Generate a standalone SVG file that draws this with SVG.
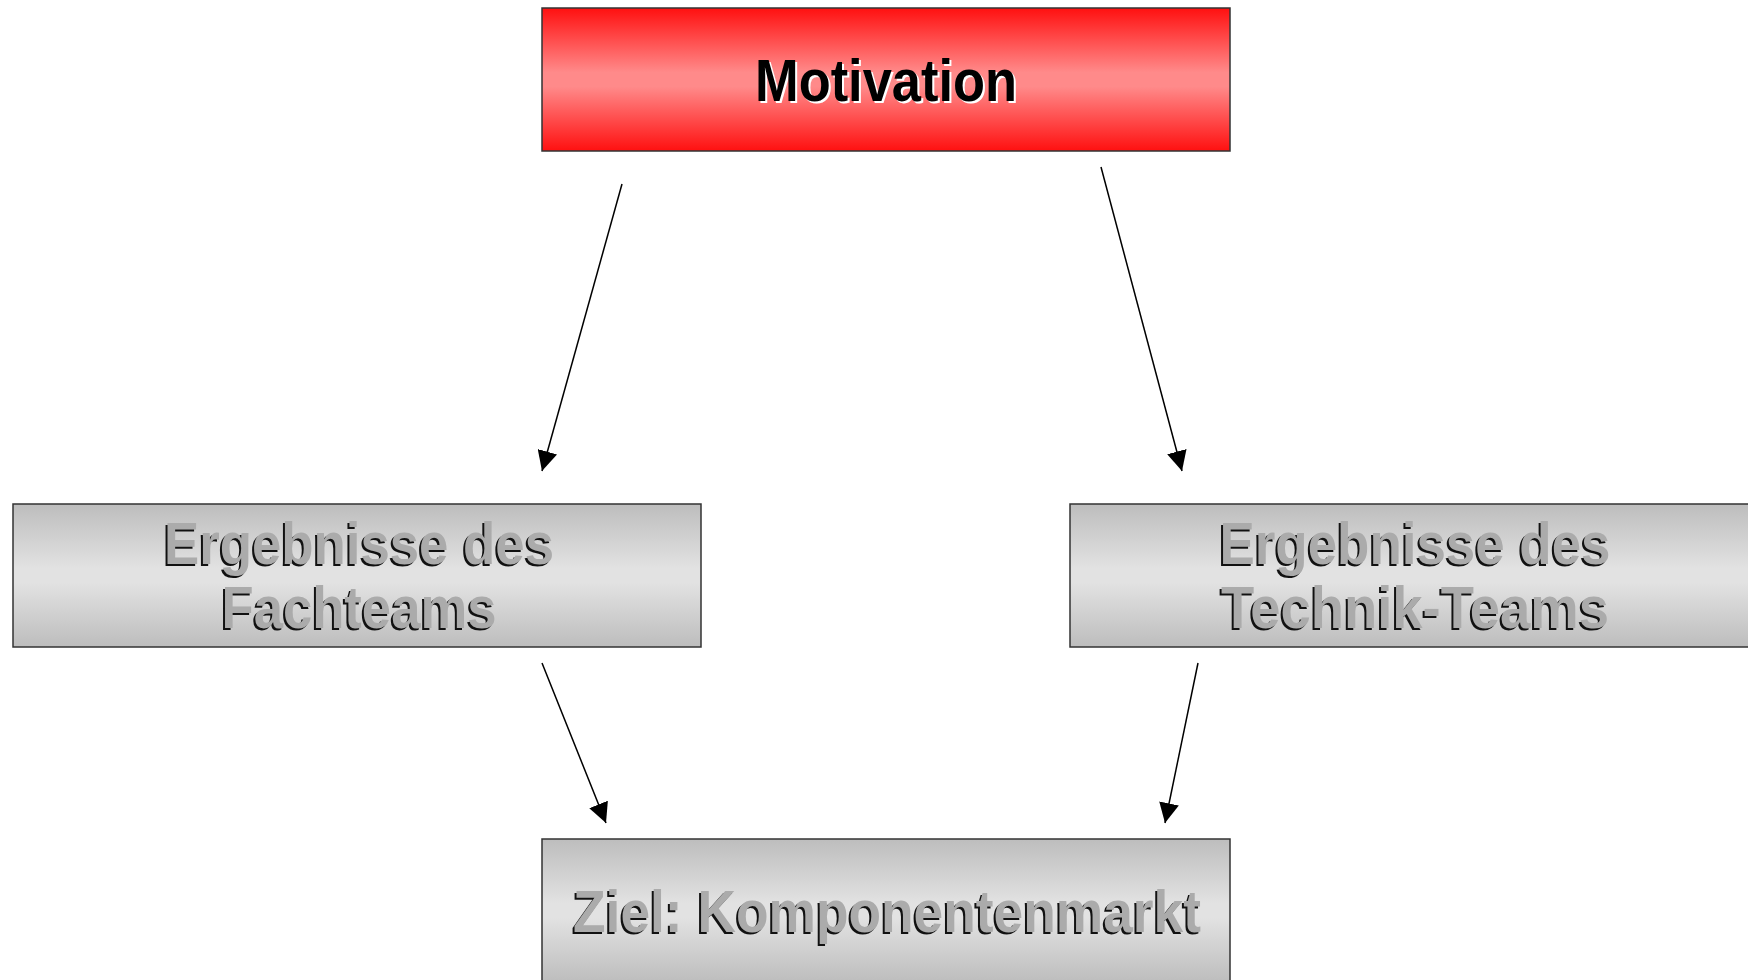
<svg xmlns="http://www.w3.org/2000/svg" width="1748" height="980" viewBox="0 0 1748 980">
<defs>
<linearGradient id="gRed" x1="0" y1="0" x2="0" y2="1">
<stop offset="0" stop-color="#ff1010"/>
<stop offset="0.45" stop-color="#ff8a8a"/>
<stop offset="0.55" stop-color="#ff8a8a"/>
<stop offset="1" stop-color="#ff1010"/>
</linearGradient>
<linearGradient id="gGray" x1="0" y1="0" x2="0" y2="1">
<stop offset="0" stop-color="#bdbdbd"/>
<stop offset="0.45" stop-color="#e2e2e2"/>
<stop offset="0.55" stop-color="#e2e2e2"/>
<stop offset="1" stop-color="#bdbdbd"/>
</linearGradient>
<marker id="arr" markerWidth="20" markerHeight="20" refX="20" refY="10" orient="auto" markerUnits="userSpaceOnUse">
<path d="M0,0 L20,10 L0,20 Z" fill="#000"/>
</marker>
<style>
.box{stroke:#333;stroke-width:1.5}
.t{font-family:"Liberation Sans",Arial,sans-serif;font-weight:bold;text-anchor:middle}
.sh{fill:#111}
.gt{fill:#ababab}
.wsh{fill:#fff}
.mt{fill:#000}
.c{stroke:#000;stroke-width:1.5;fill:none}
</style>
</defs>
<rect width="1748" height="980" fill="#fff"/>
<g id="connectors">
<line class="c" x1="622" y1="184" x2="542" y2="471" marker-end="url(#arr)"/>
<line class="c" x1="1101" y1="167" x2="1182" y2="471" marker-end="url(#arr)"/>
<line class="c" x1="542" y1="663" x2="606" y2="823" marker-end="url(#arr)"/>
<line class="c" x1="1198" y1="663" x2="1165" y2="823" marker-end="url(#arr)"/>
</g>
<g id="motivation">
<rect class="box" x="542" y="8" width="688" height="143" fill="url(#gRed)"/>
<text class="t wsh" x="888" y="103" font-size="60" textLength="262" lengthAdjust="spacingAndGlyphs">Motivation</text>
<text class="t mt" x="886" y="101" font-size="60" textLength="262" lengthAdjust="spacingAndGlyphs">Motivation</text>
</g>
<g id="fachteams">
<rect class="box" x="13" y="504" width="688" height="143" fill="url(#gGray)"/>
<text class="t sh" x="357" y="566" font-size="59" textLength="390" lengthAdjust="spacingAndGlyphs">Ergebnisse des</text>
<text class="t gt" x="359" y="564" font-size="59" textLength="390" lengthAdjust="spacingAndGlyphs">Ergebnisse des</text>
<text class="t sh" x="357" y="630" font-size="59" textLength="275" lengthAdjust="spacingAndGlyphs">Fachteams</text>
<text class="t gt" x="359" y="628" font-size="59" textLength="275" lengthAdjust="spacingAndGlyphs">Fachteams</text>
</g>
<g id="technik">
<rect class="box" x="1070" y="504" width="688" height="143" fill="url(#gGray)"/>
<text class="t sh" x="1413" y="566" font-size="59" textLength="391" lengthAdjust="spacingAndGlyphs">Ergebnisse des</text>
<text class="t gt" x="1415" y="564" font-size="59" textLength="391" lengthAdjust="spacingAndGlyphs">Ergebnisse des</text>
<text class="t sh" x="1413" y="630" font-size="59" textLength="388" lengthAdjust="spacingAndGlyphs">Technik-Teams</text>
<text class="t gt" x="1415" y="628" font-size="59" textLength="388" lengthAdjust="spacingAndGlyphs">Technik-Teams</text>
</g>
<g id="ziel">
<rect class="box" x="542" y="839" width="688" height="143" fill="url(#gGray)"/>
<text class="t sh" x="885" y="934" font-size="59" textLength="628" lengthAdjust="spacingAndGlyphs">Ziel: Komponentenmarkt</text>
<text class="t gt" x="887" y="932" font-size="59" textLength="628" lengthAdjust="spacingAndGlyphs">Ziel: Komponentenmarkt</text>
</g>
</svg>
